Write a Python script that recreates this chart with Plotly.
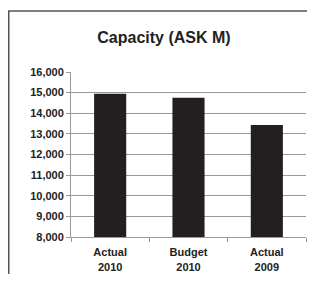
import plotly.graph_objects as go

categories = ["Actual<br>2010", "Budget<br>2010", "Actual<br>2009"]
values = [14950, 14750, 13430]
y_ticks = [8000, 9000, 10000, 11000, 12000, 13000, 14000, 15000, 16000]
y_tick_labels = ["8,000", "9,000", "10,000", "11,000", "12,000", "13,000", "14,000", "15,000", "16,000"]

W, H = 299, 266
L, R, T, B = 63, 1, 64, 37
pw, ph = W - L - R, H - T - B

fig = go.Figure(go.Bar(x=categories, y=values, marker=dict(color="#231f20", line=dict(width=0)), width=0.41))

fig.update_layout(
    width=W, height=H,
    margin=dict(l=L, r=R, t=T, b=B, pad=0),
    paper_bgcolor="white", plot_bgcolor="white",
    showlegend=False,
    font=dict(family="Liberation Sans, Arial, sans-serif", color="#222", size=11),
    title=dict(text="<b>Capacity (ASK M)</b>", x=156 / W, xanchor="center", y=1 - 29 / H, yanchor="middle",
               font=dict(size=16, color="#222")),
    xaxis=dict(showline=True, linecolor="#999", linewidth=1, ticks="outside", tickson="boundaries",
               ticklen=4, tickcolor="#999", tickfont=dict(size=11, color="#222"), showgrid=False,
               ticklabelstandoff=5,
               tickvals=categories, ticktext=["<b>%s</b>" % c for c in categories]),
    yaxis=dict(range=[8000, 16000], tickvals=y_ticks, ticktext=["<b>%s</b>" % t for t in y_tick_labels],
               showline=True, linecolor="#999", linewidth=1, ticks="outside", ticklen=4, tickcolor="#999",
               showgrid=True, gridcolor="#999", gridwidth=1, zeroline=False, tickfont=dict(size=11, color="#222")),
    shapes=[dict(type="rect", xref="paper", yref="paper",
                 x0=(0.75 - L) / pw, x1=1.2, y0=-(B + 20) / ph, y1=1 + (T - 3) / ph,
                 line=dict(color="#555", width=1.5))],
)

fig.write_html("out.html")
